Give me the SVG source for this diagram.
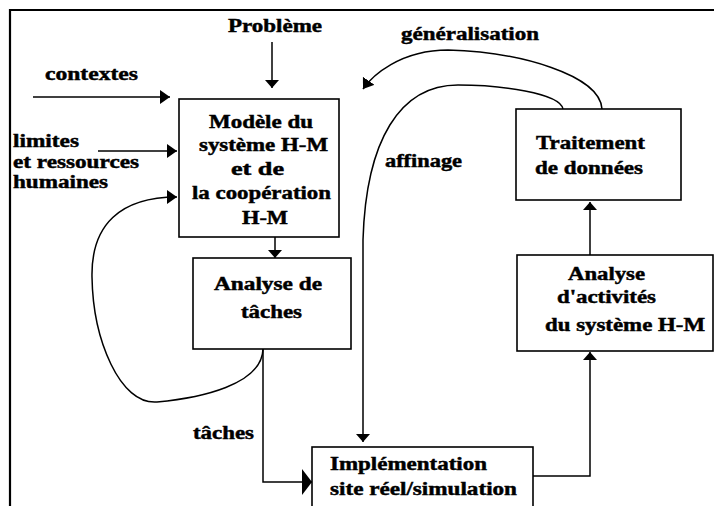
<svg xmlns="http://www.w3.org/2000/svg" width="714" height="506" viewBox="0 0 714 506">
  <style>
    text { font-family: "Liberation Serif", "Times New Roman", serif; font-weight: bold; font-size: 18px; fill: #000; stroke: #000; stroke-width: 0.45; }
    .box { fill: #fff; stroke: #000; stroke-width: 1.6; }
    .frame { fill: none; stroke: #000; stroke-width: 2.2; }
    .link { fill: none; stroke: #000; stroke-width: 1.5; }
    .head { fill: #000; stroke: none; }
  </style>
  <defs>
    <marker id="ah" markerUnits="userSpaceOnUse" viewBox="0 0 10 14" markerWidth="10" markerHeight="14" refX="10" refY="7" orient="auto">
      <path class="head" d="M0,0 L10,7 L0,14 Z"/>
    </marker>
    <marker id="ah-flat" markerUnits="userSpaceOnUse" viewBox="0 0 8 14" markerWidth="8" markerHeight="14" refX="8" refY="7" orient="auto">
      <path class="head" d="M0,0 L8,7 L0,14 Z"/>
    </marker>
    <marker id="ah-big" markerUnits="userSpaceOnUse" viewBox="0 0 10 26" markerWidth="10" markerHeight="26" refX="10" refY="13" orient="auto">
      <path class="head" d="M0,0 L10,13 L0,26 Z"/>
    </marker>
  </defs>

  <!-- outer frame -->
  <path class="frame" d="M10,506 V10 H714"/>

  <!-- free labels -->
  <g id="labels">
    <text x="228" y="32" textLength="94" lengthAdjust="spacingAndGlyphs">Problème</text>
    <text x="45" y="80" textLength="93" lengthAdjust="spacingAndGlyphs">contextes</text>
    <text x="13" y="147" textLength="66" lengthAdjust="spacingAndGlyphs">limites</text>
    <text x="13" y="168" textLength="126" lengthAdjust="spacingAndGlyphs">et ressources</text>
    <text x="13" y="188" textLength="95" lengthAdjust="spacingAndGlyphs">humaines</text>
    <text x="401" y="40" textLength="138" lengthAdjust="spacingAndGlyphs">généralisation</text>
    <text x="385" y="167" textLength="77" lengthAdjust="spacingAndGlyphs">affinage</text>
    <text x="193" y="439" textLength="61" lengthAdjust="spacingAndGlyphs">tâches</text>
  </g>

  <g id="connectors">
    <path class="link" d="M272,42 V88" marker-end="url(#ah-flat)"/>
    <path class="link" d="M33,97 H170" marker-end="url(#ah)"/>
    <path class="link" d="M98,151 H177" marker-end="url(#ah)"/>
    <path class="link" d="M275,237 V258" marker-end="url(#ah-flat)"/>
    <path class="link" d="M263,349 C262,385 200,398 157,402 C120,405 93,340 92,277 C91,225 120,197 177,197" marker-end="url(#ah)"/>
    <path class="link" d="M263,349 V482 H312" marker-end="url(#ah-big)"/>
    <path class="link" d="M533,476 H590 V352" marker-end="url(#ah-flat)"/>
    <path class="link" d="M590,255 V202" marker-end="url(#ah-flat)"/>
    <path class="link" d="M563,109 C560,93 500,85 458,85 C400,85 366,140 363,240 V442" marker-end="url(#ah-flat)"/>
    <path class="link" d="M602,109 C600,75 520,52 448,50 C400,50 372,76 363,89" marker-end="url(#ah)"/>
  </g>

  <g id="modele">
    <rect class="box" x="179" y="99" width="160" height="138"/>
    <text x="209" y="128" textLength="104" lengthAdjust="spacingAndGlyphs">Modèle du</text>
    <text x="199" y="151" textLength="129" lengthAdjust="spacingAndGlyphs">système H-M</text>
    <text x="231" y="175" textLength="53" lengthAdjust="spacingAndGlyphs">et de</text>
    <text x="192" y="199" textLength="139" lengthAdjust="spacingAndGlyphs">la coopération</text>
    <text x="242" y="224" textLength="46" lengthAdjust="spacingAndGlyphs">H-M</text>
  </g>

  <g id="analyse-taches">
    <rect class="box" x="193" y="258" width="158" height="91"/>
    <text x="214" y="290" textLength="108" lengthAdjust="spacingAndGlyphs">Analyse de</text>
    <text x="241" y="318" textLength="61" lengthAdjust="spacingAndGlyphs">tâches</text>
  </g>

  <g id="implementation">
    <rect class="box" x="312" y="447" width="221" height="70"/>
    <text x="330" y="470" textLength="157" lengthAdjust="spacingAndGlyphs">Implémentation</text>
    <text x="330" y="495" textLength="187" lengthAdjust="spacingAndGlyphs">site réel/simulation</text>
  </g>

  <g id="analyse-activites">
    <rect class="box" x="517" y="255" width="196" height="96"/>
    <text x="568" y="280" textLength="77" lengthAdjust="spacingAndGlyphs">Analyse</text>
    <text x="557" y="303" textLength="99" lengthAdjust="spacingAndGlyphs">d'activités</text>
    <text x="545" y="331" textLength="160" lengthAdjust="spacingAndGlyphs">du système H-M</text>
  </g>

  <g id="traitement">
    <rect class="box" x="516" y="109" width="165" height="91"/>
    <text x="536" y="149" textLength="109" lengthAdjust="spacingAndGlyphs">Traitement</text>
    <text x="535" y="174" textLength="108" lengthAdjust="spacingAndGlyphs">de données</text>
  </g>
</svg>
